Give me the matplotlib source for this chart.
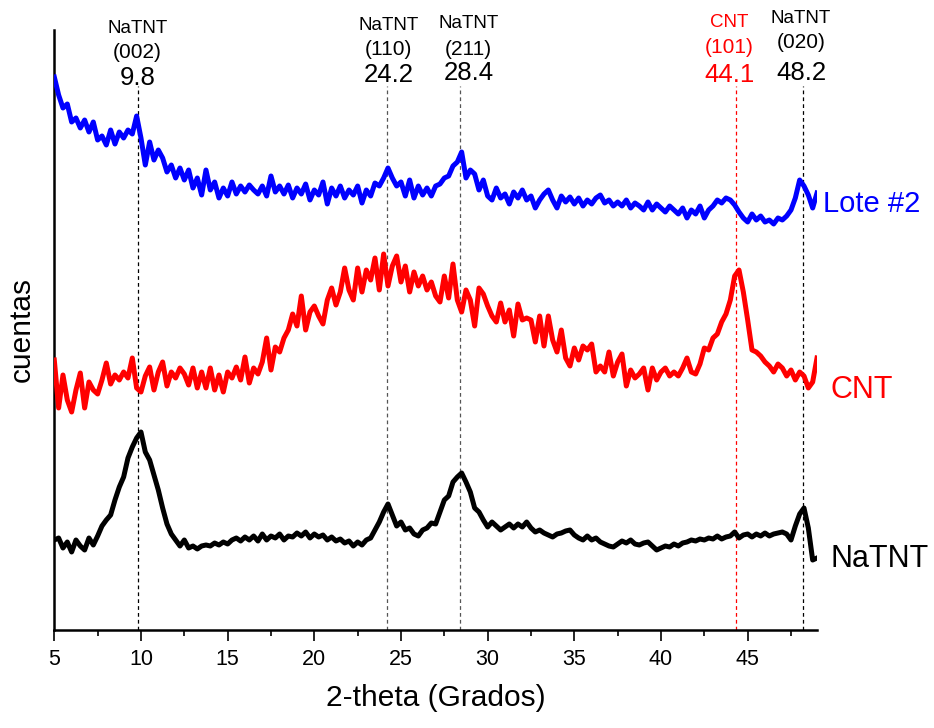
import numpy as np
import matplotlib
matplotlib.use("Agg")
import matplotlib.pyplot as plt

plt.rcParams['font.family'] = ['Liberation Sans', 'DejaVu Sans']

# 2-theta sampling (degrees)
two_theta = np.arange(5.0, 49.001, 0.25)

# Lote #2 (blue), arbitrary stacked counts
lote2 = [553, 535, 522, 526, 508, 512, 502, 510,
         498, 508, 490, 494, 485, 500, 486, 498,
         492, 500, 496, 514, 492, 465, 488, 470,
         480, 472, 458, 465, 452, 462, 450, 460,
         442, 452, 435, 460, 440, 448, 432, 442,
         434, 448, 436, 444, 438, 445, 440, 436,
         444, 434, 454, 438, 444, 436, 445, 432,
         442, 436, 446, 430, 440, 435, 448, 426,
         442, 434, 444, 432, 440, 435, 444, 427,
         440, 434, 447, 444, 452, 462, 452, 444,
         448, 434, 450, 432, 444, 435, 442, 434,
         444, 446, 452, 454, 464, 468, 478, 452,
         460, 456, 440, 450, 434, 430, 442, 432,
         436, 426, 438, 432, 440, 430, 434, 422,
         430, 436, 440, 430, 422, 434, 428, 433,
         426, 432, 424, 430, 426, 432, 435, 427,
         430, 424, 428, 424, 430, 422, 427, 424,
         420, 428, 420, 426, 422, 418, 424, 420,
         416, 422, 412, 420, 416, 424, 412, 420,
         424, 430, 427, 432, 430, 425, 418, 412,
         408, 416, 410, 414, 408, 410, 406, 412,
         410, 414, 420, 432, 450, 444, 435, 422,
         437]

# CNT (red)
cnt = [270, 222, 255, 230, 218, 240, 257, 222,
       248, 240, 236, 250, 267, 246, 255, 250,
       258, 252, 272, 242, 238, 254, 263, 240,
       258, 268, 244, 258, 252, 262, 256, 245,
       262, 242, 258, 242, 262, 240, 255, 238,
       258, 252, 263, 250, 273, 247, 262, 256,
       268, 292, 260, 283, 278, 292, 300, 316,
       304, 334, 300, 318, 324, 314, 306, 330,
       342, 325, 338, 362, 340, 330, 362, 338,
       360, 350, 372, 340, 376, 344, 364, 374,
       348, 364, 338, 358, 344, 354, 340, 348,
       334, 328, 354, 332, 366, 330, 318, 340,
       330, 304, 342, 336, 324, 314, 308, 327,
       308, 320, 294, 326, 310, 312, 310, 288,
       314, 284, 314, 290, 278, 300, 272, 264,
       282, 270, 284, 280, 286, 258, 264, 258,
       278, 254, 268, 276, 244, 260, 252, 256,
       262, 240, 262, 250, 258, 262, 254, 258,
       254, 262, 272, 258, 256, 266, 282, 280,
       292, 296, 308, 316, 330, 354, 360, 338,
       310, 280, 278, 274, 268, 264, 258, 266,
       262, 254, 260, 250, 258, 254, 242, 248,
       272]

# NaTNT (black)
natnt = [90, 92, 82, 88, 78, 90, 84, 80,
         92, 85, 94, 104, 110, 115, 130, 143,
         153, 172, 183, 192, 198, 178, 170, 155,
         140, 122, 106, 96, 90, 84, 90, 82,
         84, 81, 84, 85, 84, 87, 85, 88,
         86, 90, 92, 89, 93, 90, 94, 89,
         96, 90, 94, 92, 96, 90, 94, 93,
         97, 94, 98, 92, 96, 93, 95, 90,
         93, 89, 91, 87, 89, 84, 88, 85,
         90, 92, 100, 108, 118, 126, 115, 104,
         108, 100, 102, 96, 94, 100, 102, 107,
         106, 118, 130, 134, 148, 153, 157, 148,
         138, 122, 118, 110, 103, 108, 104, 100,
         103, 106, 102, 106, 103, 108, 102, 98,
         100, 97, 95, 93, 96, 97, 99, 100,
         95, 92, 90, 94, 90, 92, 88, 86,
         84, 83, 86, 89, 87, 90, 86, 85,
         87, 88, 84, 80, 82, 84, 83, 86,
         84, 87, 88, 90, 89, 91, 90, 92,
         91, 94, 91, 93, 94, 98, 92, 95,
         96, 93, 96, 94, 97, 94, 96, 97,
         98, 96, 90, 104, 116, 122, 102, 70,
         72]

series_names = ["Lote #2", "CNT", "NaTNT"]
series_colors = ["#0000FF", "#FF0000", "#000000"]

# Reference peaks
peak_lines = [9.8, 24.2, 28.4, 44.3, 48.2]
peak_line_colors = ["#000000", "#555555", "#555555", "#FF0000", "#000000"]
peak_phase = ["NaTNT", "NaTNT", "NaTNT", "CNT", "NaTNT"]
peak_hkl = ["(002)", "(110)", "(211)", "(101)", "(020)"]
peak_value = ["9.8", "24.2", "28.4", "44.1", "48.2"]
peak_label_x = [9.8, 24.3, 28.9, 43.95, 48.08]
peak_label_colors = ["#000000", "#000000", "#000000", "#FF0000", "#000000"]

W, H = 934, 728
fig = plt.figure(figsize=(W / 100, H / 100), dpi=100)
ax = fig.add_axes([54.3 / W, 1 - 630 / H, (817 - 54.3) / W, 600 / H])

ax.set_xlim(5, 49)
ax.set_ylim(0, 600)

# dashed reference lines
for xp, c in zip(peak_lines, peak_line_colors):
    ax.plot([xp, xp], [0, 544], color=c, lw=0.9, ls=(0, (3, 2.5)), zorder=1)

for y, c in zip([lote2, cnt, natnt], series_colors):
    ax.plot(two_theta, y, color=c, lw=3.6, solid_joinstyle='round', zorder=3)

# series labels
label_x = [49.35, 49.8, 49.8]
label_y = [418, 232, 63]
label_size = [21, 22, 22]
for name, c, xl, yl, fs in zip(series_names, series_colors, label_x, label_y, label_size):
    ax.text(xl, yl, name, color=c, fontsize=fs, ha='left', va='baseline', clip_on=False)

# peak annotations
phase_y = [597, 600, 602, 603, 607]
hkl_y = [572, 575, 575, 577, 582]
val_y = [545, 548, 550, 548, 550]
for i in range(len(peak_lines)):
    c = peak_label_colors[i]
    xl = peak_label_x[i]
    ax.text(xl, phase_y[i], peak_phase[i], color=c, fontsize=13.5, ha='center', va='baseline', clip_on=False)
    ax.text(xl, hkl_y[i], peak_hkl[i], color=c, fontsize=15, ha='center', va='baseline', clip_on=False)
    ax.text(xl, val_y[i], peak_value[i], color=c, fontsize=18.5, ha='center', va='baseline', clip_on=False)

for s in ['top', 'right']:
    ax.spines[s].set_visible(False)
for s in ['left', 'bottom']:
    ax.spines[s].set_linewidth(1.8)

ax.set_xticks([5, 10, 15, 20, 25, 30, 35, 40, 45])
ax.set_xticks(np.arange(7.5, 49, 5), minor=True)
ax.tick_params(axis='x', which='major', direction='out', length=8, width=1.2, labelsize=15.5, pad=6)
ax.tick_params(axis='x', which='minor', direction='out', length=4, width=1.2)
ax.set_yticks([])

ax.set_xlabel("2-theta (Grados)", fontsize=21.5, labelpad=10)
ax.set_ylabel("cuentas", fontsize=21.5, labelpad=13)

fig.savefig("out.png", dpi=100)
